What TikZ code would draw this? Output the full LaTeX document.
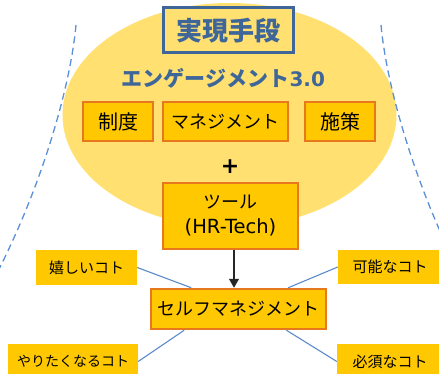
\documentclass[tikz,border=0pt]{standalone}
\usepackage{fontspec}
\setmainfont{Noto Sans CJK JP}
\newfontfamily\latinfont{DejaVu Sans}
\usetikzlibrary{arrows.meta,calc,backgrounds}
\definecolor{ellfill}{HTML}{FFE070}
\definecolor{gold}{HTML}{FFC800}
\definecolor{orng}{HTML}{E8781E}
\definecolor{navy}{HTML}{3E6699}
\definecolor{lblue}{HTML}{5B8FD6}
\definecolor{cblue}{HTML}{5A8ACB}
\tikzset{
  goldbox/.style={fill=gold,draw=orng,line width=1.2pt,inner sep=0pt,align=center,font=\fontsize{18}{25}\selectfont},
  kanjitext/.style={font=\fontsize{20}{25}\selectfont},
  thickbox/.style={goldbox,line width=2.5pt},
  sidebox/.style={fill=gold,inner sep=0pt,align=center,font=\fontsize{15}{18}\selectfont},
  conn/.style={draw=cblue,line width=1.1pt},
  guide/.style={draw=lblue,line width=1.3pt,dash pattern=on 7pt off 4.5pt}
}
\begin{document}
\begin{tikzpicture}[x=1pt,y=-1pt]
\useasboundingbox (0,0) rectangle (439,374);
\clip (0,0) rectangle (439,374);
% background ellipse
\fill[ellfill] (229.5,115) ellipse [x radius=167, y radius=112];
% dashed guides
\draw[guide] (76,25) .. controls (70,90) and (40,190) .. (-4,275);
\draw[guide] (381,25) .. controls (387,90) and (417,190) .. (461,275);
% title
\node[draw=navy,line width=3pt,fill=ellfill,minimum width=130pt,minimum height=45pt,inner sep=0pt,
      text=navy,font=\fontsize{26}{30}\selectfont\bfseries] (title) at (228,30.5) {実現手段};
\node[text=navy,font=\fontsize{21}{25}\selectfont\bfseries,inner sep=0pt] (eng) at (223.5,78) {エンゲージメント{\latinfont\bfseries\fontsize{20}{24}\selectfont 3.0}};
% three boxes
\node[goldbox,kanjitext,minimum width=70pt,minimum height=39pt] (seido) at (118,121.5) {制度};
\node[goldbox,minimum width=125pt,minimum height=39pt] (mgmt) at (225.5,121.5) {マネジメント};
\node[goldbox,kanjitext,minimum width=70pt,minimum height=39pt] (shisaku) at (340,121.5) {施策};
\node[font=\latinfont\bfseries\fontsize{22}{24}\selectfont,inner sep=0pt] (plus) at (230,167) {+};
% tool box
\node[thickbox,minimum width=135pt,minimum height=66pt] (tool) at (230.5,216) {ツール\\{\latinfont\fontsize{19.5}{24}\selectfont (HR-Tech)}};
% self management
\node[thickbox,minimum width=175pt,minimum height=40pt] (self) at (238.5,309) {セルフマネジメント};
% arrow
\draw[line width=1.3pt,draw=black!85,-{Triangle[width=10pt,length=9pt]}]
  ([xshift=3.5pt]tool.south) -- ([xshift=3.5pt]tool.south |- self.north);
% side boxes
\node[sidebox,minimum width=101pt,minimum height=35pt] (ureshii) at (86.5,267.5) {嬉しいコト};
\node[sidebox,minimum width=104pt,minimum height=34pt] (kanou) at (390,267) {可能なコト};
\node[sidebox,minimum width=130pt,minimum height=35pt,font=\fontsize{14}{18}\selectfont] (yaritaku) at (73,361.5) {やりたくなるコト};
\node[sidebox,minimum width=106pt,minimum height=35pt] (hissu) at (390,361.5) {必須なコト};
% connectors
\draw[conn] (ureshii.east) -- ($(self.north west)!0.234!(self.north east)$);
\draw[conn] (kanou.west) -- ($(self.north west)!0.78!(self.north east)$);
\draw[conn] (yaritaku.east) -- ($(self.south west)!0.194!(self.south east)$);
\draw[conn] (hissu.west) -- ($(self.south west)!0.77!(self.south east)$);
\end{tikzpicture}
\end{document}
